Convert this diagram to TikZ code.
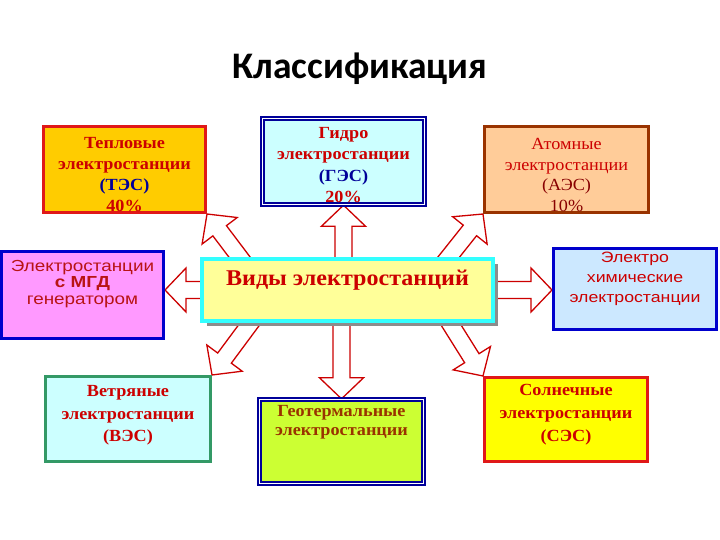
\documentclass[tikz,border=0pt]{standalone}
\usepackage{fontspec}
\setmainfont{Liberation Serif}[FakeStretch=1.07]
\setsansfont{Liberation Sans}[FakeStretch=1.18]
\newfontfamily\titlefont{Carlito}
\usetikzlibrary{positioning,calc,shadows,backgrounds}

\definecolor{tepfill}{HTML}{FFCC00}
\definecolor{boxred}{HTML}{E01818}
\definecolor{txtred}{HTML}{CC0000}
\definecolor{darkred}{HTML}{880000}
\definecolor{txtblue}{HTML}{000099}
\definecolor{darkblue}{HTML}{000099}
\definecolor{gidfill}{HTML}{CCFFFF}
\definecolor{atomfill}{HTML}{FFCC99}
\definecolor{atomline}{HTML}{993300}
\definecolor{mgdfill}{HTML}{FF99FF}
\definecolor{mgdline}{HTML}{0000CC}
\definecolor{mgdtxt}{HTML}{B81414}
\definecolor{ctrfill}{HTML}{FFFF99}
\definecolor{ctrline}{HTML}{33FFFF}
\definecolor{elchfill}{HTML}{CCE8FF}
\definecolor{vetline}{HTML}{339966}
\definecolor{geofill}{HTML}{CCFF33}
\definecolor{geotxt}{HTML}{993300}
\definecolor{solfill}{HTML}{FFFF00}
\definecolor{arrred}{HTML}{CC0000}

% hollow block arrow from #1 to #2
\newcommand{\blockarrow}[2]{%
  \path let \p1=($(#2)-(#1)$) in
    \pgfextra{\pgfmathsetmacro{\arrang}{atan2(\y1,\x1)}%
      \pgfmathsetmacro{\arrlen}{veclen(\x1,\y1)}%
      \global\let\arrang\arrang \global\let\arrlen\arrlen};
  \draw[arrowline, shift={(#1)}, rotate=\arrang]
    (0,-8.5) -- (\arrlen-21,-8.5) -- (\arrlen-21,-22) -- (\arrlen,0)
    -- (\arrlen-21,22) -- (\arrlen-21,8.5) -- (0,8.5);
}

\begin{document}
\begin{tikzpicture}[x=1pt, y=-1pt,
  box/.style={rectangle, line width=3pt, inner sep=0pt},
  dblbox/.style={rectangle, draw=darkblue, line width=1.4pt, double=white,
    double distance=1.4pt, inner sep=0pt},
  boxtext/.style={align=center, inner sep=0pt, text=txtred},
  arrowline/.style={draw=arrred, fill=white, line width=1.3pt, line join=miter}]
\useasboundingbox (0,0) rectangle (720,540);

\node[font=\titlefont\bfseries\fontsize{37.5}{42}\selectfont] (title) at (360,69) {Классификация};

% top row
\node[box, draw=boxred, fill=tepfill, minimum width=162pt, minimum height=86pt] (tep) at (124.5,169.5) {};
\node[boxtext, font=\bfseries\fontsize{17}{21}\selectfont, below=12.5pt of tep.north] (tep-t)
  {Тепловые\\электростанции\\\textcolor{txtblue}{(ТЭС)}\\40\%};

\node[dblbox, fill=gidfill, minimum width=162pt, minimum height=86pt] (gid) at (343.5,161.5) {};
\node[boxtext, font=\bfseries\fontsize{17}{21.5}\selectfont, below=9pt of gid.north] (gid-t)
  {Гидро\\электростанции\\\textcolor{txtblue}{(ГЭС)}\\20\%};

\node[box, draw=atomline, fill=atomfill, minimum width=164pt, minimum height=86pt] (atom) at (566.5,169.5) {};
\node[boxtext, font=\fontsize{17}{20.5}\selectfont, below=13.5pt of atom.north] (atom-t)
  {Атомные\\электростанции\\\textcolor{darkred}{(АЭС)}\\\textcolor{darkred}{10\%}};

% middle row
\node[box, draw=mgdline, fill=mgdfill, minimum width=162pt, minimum height=87pt] (mgd) at (82.5,295) {};
\node[boxtext, text=mgdtxt, font=\sffamily\fontsize{16}{16.5}\selectfont, below=10pt of mgd.north] (mgd-t)
  {Электростанции\\\textbf{с МГД}\\генератором};

\node[draw=ctrline, line width=4pt, fill=ctrfill, minimum width=291pt, minimum height=62pt, inner sep=0pt,
  drop shadow={shadow xshift=5pt, shadow yshift=-5pt, fill=black!45, opacity=1}] (ctr) at (347.5,290) {};
\node[boxtext, font=\bfseries\fontsize{22.5}{26}\selectfont, below=13pt of ctr.north] (ctr-t)
  {Виды электростанций};

\node[box, draw=mgdline, fill=elchfill, minimum width=163pt, minimum height=81pt] (elch) at (635,289) {};
\node[boxtext, font=\sffamily\fontsize{15}{20}\selectfont, below=4.5pt of elch.north] (elch-t)
  {Электро\\химические\\электростанции};

% bottom row
\node[box, draw=vetline, fill=gidfill, minimum width=165pt, minimum height=85pt] (vet) at (128,419) {};
\node[boxtext, font=\bfseries\fontsize{17}{22.5}\selectfont, below=10.5pt of vet.north] (vet-t)
  {Ветряные\\электростанции\\(ВЭС)};

\node[dblbox, fill=geofill, minimum width=164pt, minimum height=84pt] (geo) at (341.5,441.5) {};
\node[boxtext, text=geotxt, font=\bfseries\fontsize{17}{18.5}\selectfont, below=6.5pt of geo.north] (geo-t)
  {Геотермальные\\электростанции};

\node[box, draw=boxred, fill=solfill, minimum width=163pt, minimum height=84pt] (sol) at (566,419.5) {};
\node[boxtext, font=\bfseries\fontsize{17}{23}\selectfont, below=8.5pt of sol.north] (sol-t)
  {Солнечные\\электростанции\\(СЭС)};

% arrow ends
\coordinate (up-a) at (ctr.north -| gid.south);
\coordinate (dn-a) at (ctr.south -| geo.north);
\coordinate (lf-b) at (mgd.east |- ctr.west);
\coordinate (rt-b) at (elch.west |- ctr.east);
\coordinate (ul-a) at ($(ctr.north west)+(44,6)$);
\coordinate (ur-a) at ($(ctr.north east)+(-51,6)$);
\coordinate (dl-a) at ($(ctr.south west)+(55,-6)$);
\coordinate (dr-a) at ($(ctr.south east)+(-49,-6)$);

\begin{scope}[on background layer]
  \fill[white] (0,0) rectangle (720,540);
  \blockarrow{up-a}{gid.south}
  \blockarrow{dn-a}{geo.north}
  \blockarrow{ctr.west}{lf-b}
  \blockarrow{ctr.east}{rt-b}
  \blockarrow{ul-a}{tep.south east}
  \blockarrow{ur-a}{atom.south west}
  \blockarrow{dl-a}{vet.north east}
  \blockarrow{dr-a}{sol.north west}
\end{scope}
\end{tikzpicture}
\end{document}
